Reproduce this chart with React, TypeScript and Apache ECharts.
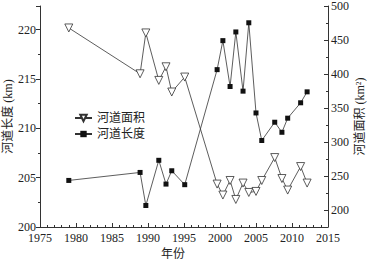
import React, { useEffect, useRef } from "react";
import * as echarts from "echarts";

const years = [1979.0, 1988.9, 1989.7, 1991.5, 1992.5, 1993.3, 1995.1, 1999.6, 2000.4, 2001.4, 2002.2, 2003.2, 2004.0, 2005.0, 2005.8, 2007.6, 2008.6, 2009.4, 2011.2, 2012.1];
const areaValues = [467.7, 400.3, 460.4, 390.6, 410.6, 373.5, 395.5, 238.1, 222.0, 243.4, 215.5, 239.6, 225.8, 227.3, 243.4, 277.1, 246.3, 229.3, 263.9, 239.6];
const lengthValues = [204.72, 205.53, 202.18, 206.76, 204.35, 205.7, 204.29, 215.95, 218.89, 214.24, 219.77, 213.77, 220.7, 211.56, 208.77, 210.62, 209.6, 211.03, 212.59, 213.7];
const rightLabels = [200, 250, 300, 350, 400, 450, 500];
const rightMinor = [225, 275, 325, 375, 425, 475];

const FONT = '"Liberation Serif", "Times New Roman", "DejaVu Serif", "Noto Sans CJK SC", serif';

export default function App() {
  const ref = useRef<HTMLDivElement>(null);
  useEffect(() => {
    if (!ref.current) return;
    const chart = echarts.init(ref.current, null, { renderer: "svg" });
    const axisColor = "#333";
    const plain = (v: number) => String(v);
    const labelStyle = { color: "#222", fontSize: 12, fontFamily: FONT, formatter: plain };
    chart.setOption({
      animation: false,
      backgroundColor: "#fff",
      textStyle: { fontFamily: FONT },
      grid: { left: 40, right: 39, top: 6, bottom: 35, containLabel: false, outerBoundsMode: "none" },
      legend: {
        orient: "vertical",
        left: 69,
        top: 107,
        itemWidth: 17,
        itemHeight: 8,
        itemGap: 4,
        textStyle: { color: "#222", fontSize: 12, fontFamily: FONT },
        data: ["河道面积", "河道长度"],
      },
      xAxis: {
        type: "value",
        min: 1975,
        max: 2015,
        interval: 5,
        name: "年份",
        nameLocation: "middle",
        nameGap: 21,
        nameMoveOverlap: false,
        nameTextStyle: { color: "#222", fontSize: 12, fontFamily: FONT, padding: [0, 22, 0, 0] },
        axisLine: { show: true, lineStyle: { color: axisColor, width: 1 } },
        axisTick: { show: true, inside: true, length: 4, lineStyle: { color: axisColor } },
        minorTick: { show: true, splitNumber: 5, length: 2, lineStyle: { color: axisColor } },
        axisLabel: { ...labelStyle, margin: 5 },
        splitLine: { show: false },
      },
      yAxis: [
        {
          type: "value",
          position: "left",
          min: 200,
          max: 222.4,
          interval: 5,
          name: "河道长度 (km)",
          nameLocation: "middle",
          nameRotate: 90,
          nameGap: 26,
          nameMoveOverlap: false,
          nameTextStyle: { color: "#222", fontSize: 12, fontFamily: FONT },
          axisLine: { show: true, lineStyle: { color: axisColor, width: 1 } },
          axisTick: { show: true, inside: false, length: 4, lineStyle: { color: axisColor } },
          minorTick: { show: true, splitNumber: 2, length: 2, lineStyle: { color: axisColor } },
          axisLabel: { ...labelStyle, margin: 4, showMaxLabel: false },
          splitLine: { show: false },
        },
        {
          type: "value",
          position: "right",
          min: 175,
          max: 500,
          name: "河道面积 (km²)",
          nameLocation: "middle",
          nameRotate: 90,
          nameGap: 26,
          nameMoveOverlap: false,
          nameTextStyle: { color: "#222", fontSize: 12, fontFamily: FONT },
          axisLine: { show: true, lineStyle: { color: axisColor, width: 1 } },
          axisTick: { show: true, inside: true, length: 4, customValues: rightLabels, lineStyle: { color: axisColor } },
          axisLabel: { ...labelStyle, margin: 3, customValues: rightLabels },
          splitLine: { show: false },
        },
        {
          type: "value",
          position: "right",
          min: 175,
          max: 500,
          axisLine: { show: false },
          axisTick: { show: true, inside: true, length: 2, customValues: rightMinor, lineStyle: { color: axisColor } },
          axisLabel: { show: false, customValues: rightMinor },
          splitLine: { show: false },
        },
      ],
      series: [
        {
          name: "河道面积",
          type: "line",
          yAxisIndex: 1,
          data: years.map((y, i) => [y, areaValues[i]]),
          symbol: "triangle",
          symbolRotate: 180,
          symbolSize: 8,
          showAllSymbol: true,
          lineStyle: { color: "#333", width: 0.8 },
          itemStyle: { color: "#fff", borderColor: "#333", borderWidth: 0.8 },
        },
        {
          name: "河道长度",
          type: "line",
          yAxisIndex: 0,
          data: years.map((y, i) => [y, lengthValues[i]]),
          symbol: "rect",
          symbolSize: 5,
          showAllSymbol: true,
          lineStyle: { color: "#333", width: 0.8 },
          itemStyle: { color: "#111", borderColor: "#111", borderWidth: 0 },
        },
      ],
    });
    return () => chart.dispose();
  }, []);
  return <div ref={ref} style={{ position: "fixed", left: 0, top: 0, width: 367, height: 262 }} />;
}
